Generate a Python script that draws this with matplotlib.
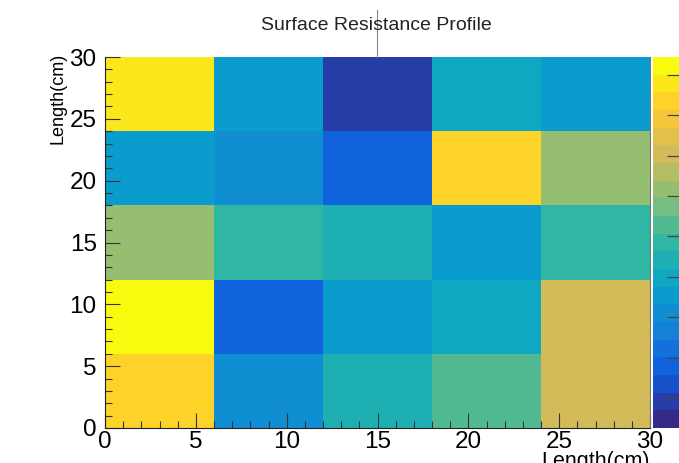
import numpy as np
import matplotlib
matplotlib.use("Agg")
import matplotlib.pyplot as plt
from matplotlib.colors import LinearSegmentedColormap, ListedColormap, BoundaryNorm
from matplotlib.lines import Line2D

plt.rcParams['font.family'] = ['Liberation Sans', 'DejaVu Sans']

# bin edges (cm)
x_edges = [0, 6, 12, 18, 24, 30]
y_edges = [0, 6, 12, 18, 24, 30]

# resistance levels, one row per y bin (bottom to top)
row_0_6 = [18, 6, 9, 11, 15]
row_6_12 = [20, 3, 7, 8, 15]
row_12_18 = [13, 10, 9, 7, 10]
row_18_24 = [7, 6, 3, 18, 13]
row_24_30 = [19, 7, 1, 8, 7]
z = np.array([row_0_6, row_6_12, row_12_18, row_18_24, row_24_30], dtype=float)

# ROOT kBird palette
stops = [0.0000, 0.1250, 0.2500, 0.3750, 0.5000, 0.6250, 0.7500, 0.8750, 1.0000]
red = [0.2082, 0.0592, 0.0780, 0.0232, 0.1802, 0.5301, 0.8186, 0.9956, 0.9764]
green = [0.1664, 0.3599, 0.5041, 0.6419, 0.7178, 0.7492, 0.7328, 0.7862, 0.9832]
blue = [0.5293, 0.8684, 0.8385, 0.7914, 0.6425, 0.4662, 0.3499, 0.1968, 0.0539]
bird = LinearSegmentedColormap.from_list(
    'bird', [(s, (r, g, b)) for s, r, g, b in zip(stops, red, green, blue)])
nlev = 21
cmap = ListedColormap([bird(k / (nlev - 1)) for k in range(nlev)])
norm = BoundaryNorm(np.arange(-0.5, nlev + 0.5), nlev)

fig = plt.figure(figsize=(6.79, 4.63), dpi=100)
ax = fig.add_axes([105 / 679, 1 - 428 / 463, 545 / 679, 371 / 463])
mesh = ax.pcolormesh(x_edges, y_edges, z, cmap=cmap, norm=norm, antialiased=False)

ax.set_xlim(0, 30)
ax.set_ylim(0, 30)
ax.set_xticks([0, 5, 10, 15, 20, 25, 30])
ax.set_yticks([0, 5, 10, 15, 20, 25, 30])
ax.set_xticks(np.arange(0, 31, 1), minor=True)
ax.set_yticks(np.arange(0, 31, 1), minor=True)
ax.tick_params(which='major', direction='in', length=11, width=0.8, labelsize=17.5,
               top=False, right=False, color='#333333')
ax.tick_params(which='minor', direction='in', length=5, width=0.8,
               top=False, right=False, color='#333333')
ax.tick_params(axis='x', pad=2)
ax.tick_params(axis='y', pad=6)
ax.spines['top'].set_visible(False)
ax.spines['right'].set_color('#777777')
ax.spines['right'].set_linewidth(0.8)
for s in ['left', 'bottom']:
    ax.spines[s].set_linewidth(0.8)
    ax.spines[s].set_color('#222222')

ax.set_ylabel('Length(cm)', fontsize=13, loc='top')
ax.yaxis.set_label_coords(-0.070, 1.012)
ax.set_xlabel('Length(cm)', fontsize=15.5, loc='right', labelpad=-1)

# palette axis (cut by figure edge, labels fall outside)
cax = fig.add_axes([653 / 679, 1 - 428 / 463, 38 / 679, 371 / 463])
cb = fig.colorbar(mesh, cax=cax)
cb.outline.set_visible(False)
cax.tick_params(direction='in', length=17, width=0.9, color='#444444',
                labelright=False)
cb.set_ticks(1.2 + 2.286 * np.arange(9))

fig.text(376 / 679, 1 - 25 / 463, 'Surface Resistance Profile', ha='center', va='center',
         fontsize=14, color='#222222')
fig.add_artist(Line2D([377 / 679, 377 / 679], [1 - 10 / 463, 1 - 57 / 463],
                      color='#888888', linewidth=0.8))

fig.savefig('out.png', dpi=100)
